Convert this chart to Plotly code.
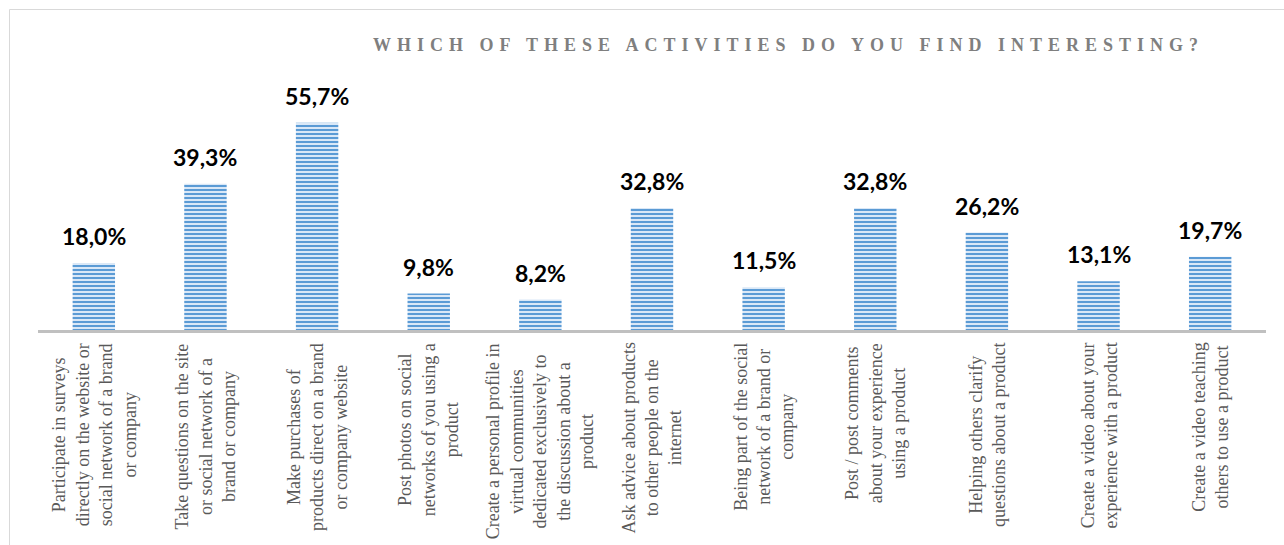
import plotly.graph_objects as go

# Survey answers: share of respondents who find each activity interesting (%)
activities = [
    "Participate in surveys<br>directly on the website or<br>social network of a brand<br>or company",
    "Take questions on the site<br>or social network of a<br>brand or company",
    "Make purchases of<br>products direct on a brand<br>or company website",
    "Post photos on social<br>networks of you using a<br>product",
    "Create a personal profile in<br>virtual communities<br>dedicated exclusively to<br>the discussion about a<br>product",
    "Ask advice about products<br>to other people on the<br>internet",
    "Being part of the social<br>network of a brand or<br>company",
    "Post / post comments<br>about your experience<br>using a product",
    "Helping others clarify<br>questions about a product",
    "Create a video about your<br>experience with a product",
    "Create a video teaching<br>others to use a product",
]
shares = [18.0, 39.3, 55.7, 9.8, 8.2, 32.8, 11.5, 32.8, 26.2, 13.1, 19.7]
chart_title = "WHICH OF THESE ACTIVITIES DO YOU FIND INTERESTING?"

W, H = 1284, 545
ML, MR, MT, MB = 38, 18, 80, 215
PW, PH = W - ML - MR, H - MT - MB


def px_x(p):
    return (p - ML) / PW


def px_y(p):
    return (H - MB - p) / PH


fig = go.Figure()
fig.add_trace(go.Bar(
    x=activities,
    y=shares,
    marker=dict(
        color="#5b9bd5",
        line=dict(width=0),
        pattern=dict(shape="-", fgcolor="#5b9bd5", bgcolor="#dae8f7",
                     size=4, solidity=0.5, fillmode="replace"),
    ),
    hoverinfo="skip",
))

annotations = [
    dict(text=chart_title, xref="paper", yref="paper",
         x=px_x(371), y=px_y(45), xanchor="left", yanchor="middle", align="left",
         showarrow=False,
         font=dict(family="Liberation Serif", size=18, color="#7f7f7f", weight="bold")),
]
for act, val in zip(activities, shares):
    # value label above each bar
    annotations.append(dict(
        x=act, y=val, xref="x", yref="y", text=f"{val:.1f}%".replace(".", ","),
        showarrow=False, yanchor="bottom", yshift=11,
        font=dict(family="Lato", size=23, color="#000000", weight="bold"),
    ))
    # rotated category label below the axis
    annotations.append(dict(
        x=act, y=px_y(341), xref="x", yref="paper", text=act,
        showarrow=False, textangle=-90, align="center",
        xanchor="center", yanchor="top",
        font=dict(family="Liberation Serif", size=18, color="#595959"),
    ))

fig.update_layout(
    width=W, height=H,
    margin=dict(l=ML, r=MR, t=MT, b=MB),
    paper_bgcolor="#ffffff", plot_bgcolor="#ffffff",
    showlegend=False,
    bargap=0.62,
    xaxis=dict(showticklabels=False, showgrid=False, zeroline=False,
               showline=True, linecolor="#c0c0c0", linewidth=3, ticks=""),
    yaxis=dict(range=[0, PH / 3.72], visible=False, showgrid=False, zeroline=False),
    annotations=annotations,
    shapes=[dict(type="rect", xref="paper", yref="paper",
                 x0=px_x(9.5), x1=px_x(W + 10), y0=px_y(H + 10), y1=px_y(9.5),
                 line=dict(color="#d9d9d9", width=1), fillcolor="rgba(0,0,0,0)",
                 layer="below")],
)

# widen the tracking of the heading text
post = """
var t = document.querySelector('.annotation[data-index="0"] .annotation-text');
if (t) { t.style.letterSpacing = '6px'; }
"""
fig.write_html("out.html", post_script=post)
